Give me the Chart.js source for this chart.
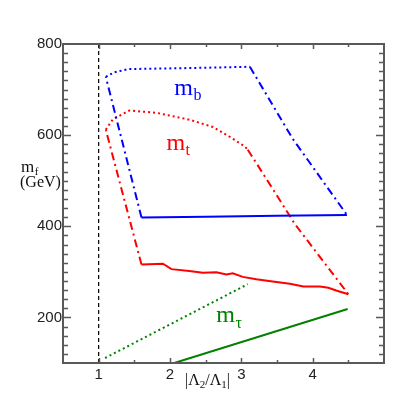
<!DOCTYPE html>
<html>
<head>
<meta charset="utf-8">
<script src="https://cdn.jsdelivr.net/npm/chart.js@4"></script>
<style>
  html, body { margin: 0; padding: 0; background: #fff; }
  #wrap { width: 403px; height: 403px; }
</style>
</head>
<body>
<div id="wrap"><canvas id="chart" width="403" height="403"></canvas></div>
<script>
// --- data (x = |L2/L1|, y = m_f in GeV) ---

// m_b (blue)
const mbTopX = [1.10, 1.22, 1.42, 2.20, 3.12];
const mbTopY = [728, 738, 745, 747, 750];
const mbRightX = [3.12, 3.72, 4.48];
const mbRightY = [750, 592, 425];
const mbBottomX = [4.48, 3.50, 2.50, 1.60];
const mbBottomY = [425, 423, 421, 419.5];
const mbLeftX = [1.60, 1.10];
const mbLeftY = [419.5, 728];

// m_t (red)
const mtTopX = [1.10, 1.20, 1.43, 1.81, 2.27, 2.60, 2.84, 3.05, 3.09];
const mtTopY = [612, 635, 654, 649, 634, 618, 596, 575, 568];
const mtRightX = [3.09, 3.40, 3.75, 4.50];
const mtRightY = [568, 492, 405, 251];
const mtBottomX = [4.50, 4.33, 4.22, 4.10, 3.87, 3.68, 3.44, 3.21, 3.02, 2.88, 2.79, 2.65, 2.46, 2.27, 2.02, 1.90, 1.60];
const mtBottomY = [251, 259, 265, 268, 268, 274, 279, 284, 289, 297, 294, 299, 298, 302, 306, 318, 316];
const mtLeftX = [1.60, 1.10];
const mtLeftY = [316, 612];

// m_tau (green)
const mtauDotX = [1.09, 3.09];
const mtauDotY = [111, 273];
const mtauSolidX = [2.06, 4.49];
const mtauSolidY = [100, 218.5];

// vertical reference at |L2/L1| = 1
const refX = [1, 1];
const refY = [100, 800];

const xTicks = [1, 2, 3, 4];
const yTicks = [200, 400, 600, 800];

const BLUE = '#0000ff';
const RED = '#ff0000';
const GREEN = '#008000';
const FRAME = '#595959';

const DOT = [2, 3];
const DASHDOT = [8, 4, 2, 4];

function pts(xs, ys) {
    return xs.map((x, i) => ({ x: x, y: ys[i] }));
}

function line(xs, ys, color, dash, width) {
    return {
        data: pts(xs, ys),
        showLine: true,
        borderColor: color,
        backgroundColor: color,
        borderWidth: width || 2,
        borderDash: dash || [],
        pointRadius: 0,
        tension: 0,
        fill: false
    };
}

// text drawn with a subscript, anchored at a data point (left, baseline)
function subText(ctx, x, y, main, sub, color, size, subSize, drop) {
    ctx.save();
    ctx.fillStyle = color;
    ctx.textBaseline = 'alphabetic';
    ctx.textAlign = 'left';
    ctx.font = size + 'px "Liberation Serif"';
    ctx.fillText(main, x, y);
    const w = ctx.measureText(main).width;
    ctx.font = subSize + 'px "Liberation Serif"';
    ctx.fillText(sub, x + w + 0.5, y + drop);
    ctx.restore();
}

const framePlugin = {
    id: 'frame',
    afterDatasetsDraw(chart) {
        const ctx = chart.ctx;
        const a = chart.chartArea;
        const xs = chart.scales.x;
        const ys = chart.scales.y;

        ctx.save();
        ctx.strokeStyle = FRAME;
        ctx.lineWidth = 1.5;
        ctx.beginPath();
        // left / right ticks every 20 GeV
        for (let v = 120; v < 800; v += 20) {
            const py = Math.round(ys.getPixelForValue(v)) + 0.5;
            const len = (v % 200 === 0) ? 8 : 5;
            ctx.moveTo(a.left, py); ctx.lineTo(a.left + len, py);
            ctx.moveTo(a.right, py); ctx.lineTo(a.right - len, py);
        }
        // bottom / top ticks every 0.5
        for (let v = 1; v < 5; v += 0.5) {
            const px = Math.round(xs.getPixelForValue(v)) + 0.5;
            const len = Number.isInteger(v) ? 5 : 3;
            ctx.moveTo(px, a.bottom); ctx.lineTo(px, a.bottom - len);
            ctx.moveTo(px, a.top); ctx.lineTo(px, a.top + len);
        }
        ctx.stroke();
        ctx.lineWidth = 2;
        ctx.strokeRect(a.left, a.top, a.right - a.left, a.bottom - a.top);
        ctx.restore();

        // curve labels
        subText(ctx, xs.getPixelForValue(2.06), ys.getPixelForValue(689), 'm', 'b', BLUE, 24, 16, 5);
        subText(ctx, xs.getPixelForValue(1.95), ys.getPixelForValue(568), 'm', 't', RED, 24, 16, 5);
        subText(ctx, xs.getPixelForValue(2.65), ys.getPixelForValue(191), 'm', 'τ', GREEN, 24, 16, 6);

        // y title
        subText(ctx, 21, 172, 'm', 'f', '#111', 17, 11, 3);
        ctx.save();
        ctx.fillStyle = '#111';
        ctx.font = '16px "Liberation Serif"';
        ctx.textAlign = 'left';
        ctx.fillText('(GeV)', 20, 187);

        // x title |L2/L1|
        let x = 185;
        const base = 385;
        const parts = [['|', 16, 0], ['Λ', 16, 0], ['2', 11, 3], ['/', 16, 0], ['Λ', 16, 0], ['1', 11, 3], ['|', 16, 0]];
        parts.forEach(p => {
            ctx.font = p[1] + 'px "Liberation Serif"';
            ctx.fillText(p[0], x, base + p[2]);
            x += ctx.measureText(p[0]).width;
        });
        ctx.restore();
    }
};

const ctx = document.getElementById('chart').getContext('2d');

new Chart(ctx, {
    type: 'scatter',
    data: {
        datasets: [
            line(refX, refY, '#000', [4, 3], 1.2),
            line(mbTopX, mbTopY, BLUE, DOT),
            line(mbRightX, mbRightY, BLUE, DASHDOT),
            line(mbBottomX, mbBottomY, BLUE),
            line(mbLeftX, mbLeftY, BLUE, DASHDOT),
            line(mtTopX, mtTopY, RED, DOT),
            line(mtRightX, mtRightY, RED, DASHDOT),
            line(mtBottomX, mtBottomY, RED),
            line(mtLeftX, mtLeftY, RED, DASHDOT),
            line(mtauDotX, mtauDotY, GREEN, DOT),
            line(mtauSolidX, mtauSolidY, GREEN)
        ]
    },
    options: {
        responsive: false,
        animation: false,
        events: [],
        layout: { padding: { top: 44, right: 19, left: 0, bottom: 0 } },
        plugins: {
            legend: { display: false },
            tooltip: { enabled: false }
        },
        scales: {
            x: {
                type: 'linear',
                min: 0.5,
                max: 5,
                grid: { display: false, drawTicks: false },
                border: { display: false },
                afterBuildTicks: s => { s.ticks = xTicks.map(v => ({ value: v })); },
                afterFit: s => { s.height = 40; },
                ticks: {
                    padding: 3,
                    color: '#222',
                    font: { family: '"Liberation Sans"', size: 15 },
                    maxRotation: 0
                }
            },
            y: {
                type: 'linear',
                min: 100,
                max: 800,
                grid: { display: false, drawTicks: false },
                border: { display: false },
                afterBuildTicks: s => { s.ticks = yTicks.map(v => ({ value: v })); },
                afterFit: s => { s.width = 63; },
                ticks: {
                    padding: 1,
                    color: '#222',
                    font: { family: '"Liberation Sans"', size: 15 }
                }
            }
        }
    },
    plugins: [framePlugin]
});
</script>
</body>
</html>
